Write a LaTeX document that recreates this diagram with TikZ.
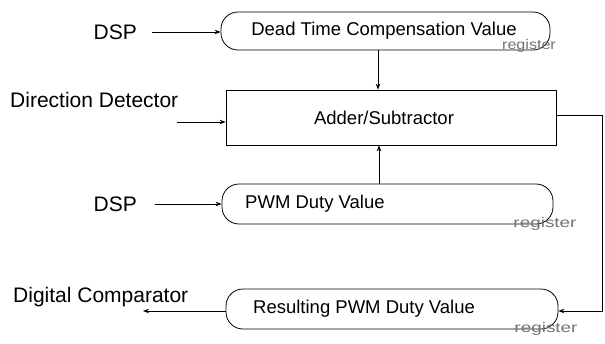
\documentclass[tikz,border=0pt]{standalone}
\usepackage{fontspec}
\setmainfont{Liberation Sans}
\usetikzlibrary{arrows.meta}
\begin{document}
\begin{tikzpicture}[x=1pt,y=-1pt,
  reg/.style={draw,line width=0.8pt,rounded corners=17pt,inner sep=0pt},
  blk/.style={draw,line width=0.8pt,inner sep=0pt},
  lbl/.style={font=\fontsize{21}{24}\selectfont,inner sep=0pt},
  txt/.style={font=\fontsize{18.5}{22}\selectfont,inner sep=0pt},
  regl/.style={font=\fontsize{14}{16}\selectfont,text=black!55,inner sep=0pt},
  conn/.style={line width=0.8pt,-{Stealth[length=6pt,width=4.5pt]}},
  line/.style={line width=0.8pt}]
\useasboundingbox (0,0) rectangle (605,343);
% boxes
\node[reg,minimum width=329pt,minimum height=38pt] (dt) at (385.5,31) {};
\node[txt] (dtt) at (384,31) {Dead Time Compensation Value};
\node[regl] (r1) at (529,46) {\scalebox{1.15}[1]{register}};
\node[blk,minimum width=330pt,minimum height=55pt] (add) at (391,117.5) {};
\node[txt] (addt) at (384,117.5) {Adder/Subtractor};
\node[reg,minimum width=331pt,minimum height=40pt] (pwm) at (387.5,204) {};
\node[txt,anchor=west] (pwmt) at (245,204) {PWM Duty Value};
\node[regl] (r2) at (545,224) {\scalebox{1.35}[1]{register}};
\node[reg,minimum width=332pt,minimum height=40pt] (res) at (392,309) {};
\node[txt,anchor=west] (rest) at (253,309) {Resulting PWM Duty Value};
\node[regl] (r3) at (546,329) {\scalebox{1.35}[1]{register}};
% outside labels
\node[lbl,anchor=east] (dsp1) at (137,32) {DSP};
\node[lbl,anchor=west] (dd) at (10,100) {Direction Detector};
\node[lbl,anchor=east] (dsp2) at (137,204) {DSP};
\node[lbl,anchor=west] (dc) at (13,297) {Digital Comparator};
% coordinates
\coordinate (a1) at (152,32);
\coordinate (a2) at (177,122);
\coordinate (a3) at (155,204);
\coordinate (a4) at (143,311);
\coordinate (c1) at (602,115);
\coordinate (c2) at (602,311);
% connectors
\draw[conn] (a1) -- (dt.west |- a1);
\draw[conn] (a2) -- (add.west |- a2);
\draw[conn] (a3) -- (pwm.west |- a3);
\draw[conn] (res.west |- a4) -- (a4);
\draw[conn] (dt.south -| 378,0) -- (add.north -| 378,0);
\draw[conn] (pwm.north -| 379,0) -- (add.south -| 379,0);
\draw[conn] (add.east |- c1) -- (c1) -- (c2) -- (res.east |- c2);
\end{tikzpicture}
\end{document}
